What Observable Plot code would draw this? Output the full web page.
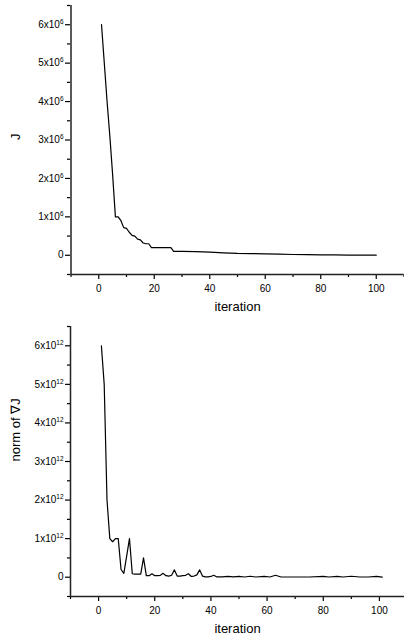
<!DOCTYPE html>
<html>
<head>
<meta charset="utf-8">
<script src="https://cdn.jsdelivr.net/npm/d3@7"></script>
<script src="https://cdn.jsdelivr.net/npm/@observablehq/plot@0.6"></script>
<style>
  html, body { margin: 0; padding: 0; background: #fff; }
  #charts svg { display: block; }
  #charts { width: 404px; }
</style>
</head>
<body>
<div id="charts"></div>
<script>
// ---- Data: objective J per iteration ----
const iterJ = [1,2,3,4,5,6,7,8,9,10,11,12,13,14,15,16,17,18,19,20,26,27,30,35,40,45,50,55,60,65,70,75,80,85,90,95,100];
const valuesJ = [6e6,5e6,4e6,3.1e6,2.1e6,1.0e6,1.0e6,0.9e6,0.72e6,0.7e6,0.6e6,0.52e6,0.5e6,0.42e6,0.4e6,0.32e6,0.3e6,0.3e6,0.2e6,0.2e6,0.2e6,0.1e6,0.1e6,0.095e6,0.08e6,0.065e6,0.05e6,0.045e6,0.035e6,0.03e6,0.02e6,0.018e6,0.012e6,0.01e6,0.006e6,0.004e6,0.002e6];

// ---- Data: norm of gradient per iteration ----
const iterG = [1,2,3,4,5,6,7,8,9,11,12,13,15,16,17,18,19,20,21,22,23,24,25,26,27,28,29,30,31,32,33,34,35,36,37,38,39,40,41,42,44,46,48,50,52,54,56,59,61,63,65,70,75,80,82,85,87,90,93,96,99,101];
const valuesG = [6e12,5e12,2e12,1.0e12,0.92e12,1.0e12,1.0e12,0.2e12,0.1e12,1.0e12,0.09e12,0.08e12,0.08e12,0.5e12,0.04e12,0.04e12,0.09e12,0.04e12,0.04e12,0.05e12,0.1e12,0.04e12,0.03e12,0.05e12,0.19e12,0.03e12,0.03e12,0.04e12,0.05e12,0.09e12,0.02e12,0.03e12,0.06e12,0.19e12,0.03e12,0.01e12,0.01e12,0.02e12,0.05e12,0.01e12,0.01e12,0.02e12,0.01e12,0.02e12,0.005e12,0.025e12,0.005e12,0.02e12,0.005e12,0.05e12,0.005e12,0.005e12,0.005e12,0.02e12,0.005e12,0.02e12,0.005e12,0.025e12,0.005e12,0.005e12,0.02e12,0];

// ---- Axis ticks ----
const xMajor = [0,20,40,60,80,100];
const xMinor = [-10,10,30,50,70,90,110];
const xDomain = [-10,110];
const yMajorJ = [0,1e6,2e6,3e6,4e6,5e6,6e6];
const yMinorJ = [-0.5e6,0.5e6,1.5e6,2.5e6,3.5e6,4.5e6,5.5e6,6.5e6];
const yDomainJ = [-0.5e6,6.5e6];
const yMajorG = [0,1e12,2e12,3e12,4e12,5e12,6e12];
const yMinorG = [-0.5e12,0.5e12,1.5e12,2.5e12,3.5e12,4.5e12,5.5e12,6.5e12];
const yDomainG = [-0.5e12,6.5e12];
const yLabelJ = "J";
const yLabelG = "norm of \u2207J";
const xLabel = "iteration";

function sciFormat(exp) {
  return d => d === 0 ? "0" : `${Math.round(d / Math.pow(10, exp))}x10^${exp}`;
}

const SVGNS = "http://www.w3.org/2000/svg";
function raiseExponents(svg) {
  svg.querySelectorAll("text").forEach(t => {
    const s = t.textContent;
    const m = s.match(/^(.*)\^(\d+)$/);
    if (!m) return;
    t.textContent = "";
    const base = document.createElementNS(SVGNS, "tspan");
    base.textContent = m[1];
    const ex = document.createElementNS(SVGNS, "tspan");
    ex.setAttribute("dy", "-4");
    ex.setAttribute("font-size", "6.5");
    ex.textContent = m[2];
    t.append(base, ex);
  });
  return svg;
}

function makeChart(iters, vals, yDomain, yMajor, yMinor, exp, yLabel, mt, mb, xRange) {
  const data = iters.map((it, i) => ({iter: it, v: vals[i]}));
  const H = 318;
  const svg = Plot.plot({
    width: 404,
    height: H,
    marginLeft: 70,
    marginRight: 0,
    marginTop: mt,
    marginBottom: mb,
    style: {fontFamily: "'Liberation Sans', Arial, sans-serif", fontSize: "10px", color: "#000", background: "#fff"},
    x: {domain: xDomain, range: xRange, label: null},
    y: {domain: yDomain, range: [H - mb, mt], label: null},
    marks: [
      Plot.axisX({ticks: xMajor, tickSize: 5, tickPadding: 5, label: null, tickFormat: d => String(d), stroke: "#000", strokeWidth: 1.2}),
      Plot.axisX({ticks: xMinor, tickSize: 3, label: null, tickFormat: () => "", stroke: "#000", strokeWidth: 1.2}),
      Plot.axisY({ticks: yMajor, tickSize: 5, tickPadding: 2, label: null, tickFormat: sciFormat(exp), stroke: "#000", strokeWidth: 1.2}),
      Plot.axisY({ticks: yMinor, tickSize: 3, label: null, tickFormat: () => "", stroke: "#000", strokeWidth: 1.2}),
      Plot.ruleX([xDomain[0]], {y1: yDomain[0], y2: yDomain[1], stroke: "#222", strokeWidth: 1.5}),
      Plot.ruleY([yDomain[0]], {x1: xDomain[0], x2: xDomain[1], stroke: "#222", strokeWidth: 1.5}),
      Plot.line(data, {x: "iter", y: "v", stroke: "#000", strokeWidth: 1.2}),
      Plot.text([yLabel], {frameAnchor: "left", dx: -55, rotate: -90, fontSize: 13, fill: "#000"}),
      Plot.text([xLabel], {frameAnchor: "bottom", lineAnchor: "middle", dy: 32, fontSize: 13, fill: "#000"})
    ]
  });
  return raiseExponents(svg);
}

const root = document.getElementById("charts");
root.append(makeChart(iterJ, valuesJ, yDomainJ, yMajorJ, yMinorJ, 6, yLabelJ, 5, 44, [70.5, 403.5]));
root.append(makeChart(iterG, valuesG, yDomainG, yMajorG, yMinorG, 12, yLabelG, 8, 40, [70, 407]));
</script>
</body>
</html>
